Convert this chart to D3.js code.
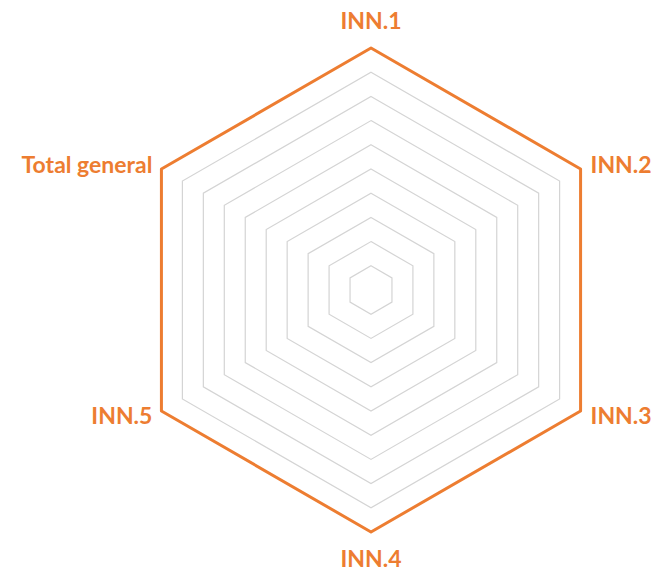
<html>
<script src='https://d3js.org/d3.v7.min.js'></script>
<style>
body {margin: 0; background: white;}
text {font-family: Lato, sans-serif; font-weight: bold; fill: #ED7D31;}
</style>
<body>
<svg width=651 height=571></svg>
<script>
var categories = ['INN.1', 'INN.2', 'INN.3', 'INN.4', 'INN.5', 'Total general'];
var values = [1, 1, 1, 1, 1, 1];
var gridTicks = [0.1, 0.2, 0.3, 0.4, 0.5, 0.6, 0.7, 0.8, 0.9, 1];

var svg = d3.select('svg'),
    cx = 371, cy = 290,
    radius = 242,
    g = svg.append('g').attr('transform', 'translate(' + cx + ',' + cy + ')');

var r = d3.scaleLinear().domain([0, 1]).range([0, radius]);
var angle = d3.scaleLinear().domain([0, categories.length]).range([0, 2 * Math.PI]);

var line = d3.lineRadial()
    .angle(function(d, i) { return angle(i); })
    .radius(function(d) { return r(d); })
    .curve(d3.curveLinearClosed);

// grid rings
g.selectAll('.grid')
  .data(gridTicks)
  .enter()
  .append('path')
  .attr('class', 'grid')
  .attr('d', function(t) { return line(categories.map(function() { return t; })); })
  .attr('fill', 'none')
  .attr('stroke', '#D4D4D4')
  .attr('stroke-width', 1.2);

// series
g.append('path')
  .attr('d', line(values))
  .attr('fill', 'none')
  .attr('stroke', '#ED7D31')
  .attr('stroke-width', 3)
  .attr('stroke-linejoin', 'round');

// labels
g.selectAll('.label')
  .data(categories)
  .enter()
  .append('text')
  .attr('class', 'label')
  .style('font-size', '23px')
  .each(function(d, i) {
    var a = angle(i),
        x = Math.sin(a) * r(1),
        y = -Math.cos(a) * r(1),
        t = d3.select(this).text(d);
    if (Math.abs(x) < 1) {
      t.attr('x', 0).attr('text-anchor', 'middle')
       .attr('y', y < 0 ? y - 19 : y + 35);
    } else {
      t.attr('x', x > 0 ? x + 10 : x - 9)
       .attr('text-anchor', x > 0 ? 'start' : 'end')
       .attr('dominant-baseline', 'central')
       .attr('y', y < 0 ? y - 5 : y + 4);
    }
  });
</script>
</body>
</html>
